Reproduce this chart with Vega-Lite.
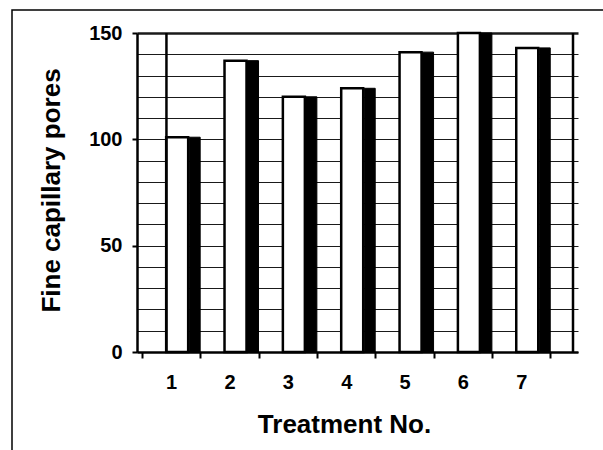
{
  "$schema": "https://vega.github.io/schema/vega-lite/v6.json",
  "width": 600,
  "height": 460,
  "autosize": "none",
  "padding": {"left": 12, "top": 10, "right": 0, "bottom": 0},
  "background": "white",
  "config": {
    "view": {"stroke": "black", "strokeWidth": 1.5},
    "font": "Liberation Sans"
  },
  "resolve": {"axis": {"x": "independent", "y": "independent"}},
  "layer": [
    {
      "data": {
        "values": [
          {"treatment": 1, "pores": 101},
          {"treatment": 2, "pores": 137},
          {"treatment": 3, "pores": 120},
          {"treatment": 4, "pores": 124},
          {"treatment": 5, "pores": 141},
          {"treatment": 6, "pores": 150},
          {"treatment": 7, "pores": 143}
        ]
      },
      "encoding": {
        "x": {
          "field": "treatment",
          "type": "quantitative",
          "scale": {"domain": [0.5, 7.887], "range": [125, 566], "nice": false, "zero": false},
          "axis": {
            "orient": "bottom",
            "offset": -118,
            "values": [0.5, 1, 1.5, 2, 2.5, 3, 3.5, 4, 4.5, 5, 5.5, 6, 6.5, 7, 7.5],
            "labelExpr": "datum.value % 1 == 0 ? '' + datum.value : ''",
            "labelOverlap": false,
            "grid": false,
            "domainColor": "black",
            "domainWidth": 2.5,
            "tickColor": "black",
            "tickWidth": 2,
            "tickSize": 6,
            "tickOpacity": {"condition": {"test": "datum.value % 1 != 0", "value": 1}, "value": 0},
            "labelFontSize": 20,
            "labelFontWeight": "bold",
            "labelColor": "black",
            "labelPadding": 14,
            "title": "Treatment No.",
            "titleFontSize": 26,
            "titleFontWeight": "bold",
            "titleColor": "black",
            "titleX": 332,
            "titleY": 80,
            "titleAlign": "center",
            "titleBaseline": "alphabetic"
          }
        },
        "y": {
          "field": "pores",
          "type": "quantitative",
          "scale": {"domain": [0, 150], "range": [342, 23], "nice": false},
          "axis": {
            "orient": "left",
            "offset": -125,
            "values": [0, 10, 20, 30, 40, 50, 60, 70, 80, 90, 100, 110, 120, 130, 140, 150],
            "labelExpr": "datum.value % 50 == 0 ? datum.label : ''",
            "labelOverlap": false,
            "grid": true,
            "gridColor": "#1a1a1a",
            "gridWidth": {"condition": {"test": "datum.value == 150", "value": 2.5}, "value": 1.2},
            "domainColor": "black",
            "domainWidth": 2.5,
            "tickColor": "black",
            "tickWidth": 2,
            "tickSize": 5,
            "tickOpacity": {"condition": {"test": "datum.value % 50 == 0", "value": 1}, "value": 0},
            "labelFontSize": 20,
            "labelFontWeight": "bold",
            "labelColor": "black",
            "labelPadding": 10,
            "title": "Fine capillary pores",
            "titleFontSize": 26,
            "titleFontWeight": "bold",
            "titleColor": "black",
            "titleX": -78,
            "titleY": 180,
            "titleAlign": "center",
            "titleBaseline": "alphabetic"
          }
        }
      },
      "layer": [
        {
          "mark": {"type": "bar", "width": 11, "xOffset": 23.5, "fill": "black", "stroke": "black", "strokeWidth": 1}
        },
        {
          "mark": {"type": "bar", "width": 22, "xOffset": 6, "fill": "white", "stroke": "black", "strokeWidth": 2.5}
        }
      ]
    },
    {
      "data": {"values": [{"edge": "back wall, left edge", "at": 0.919}, {"edge": "side wall", "at": 7.887}]},
      "mark": {"type": "rule", "color": "black", "strokeWidth": 2.5},
      "encoding": {
        "x": {"field": "at", "type": "quantitative", "axis": null},
        "y": {"datum": 0, "type": "quantitative", "axis": null},
        "y2": {"datum": 150}
      }
    }
  ]
}
